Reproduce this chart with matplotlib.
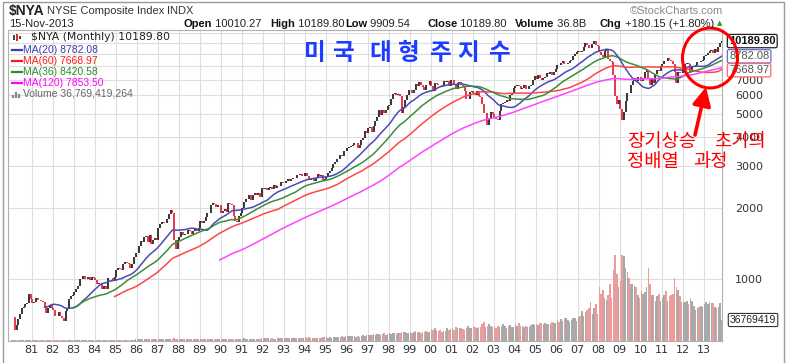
import numpy as np
import pandas as pd
import matplotlib
matplotlib.use("Agg")
import matplotlib.pyplot as plt
import matplotlib.transforms as mtrans
from matplotlib.patches import Ellipse, Rectangle
from matplotlib.ticker import FixedLocator, FixedFormatter, NullFormatter

plt.rcParams['font.family'] = ['DejaVu Sans', 'Noto Sans CJK KR']

# ---------------- data (monthly, Jan 1980 .. Nov 2013) ----------------
start_year = 1980
close_1980s = [690, 690, 610, 640, 680, 710, 750, 760, 780, 790, 860, 823,
               790, 800, 830, 815, 815, 810, 800, 760, 720, 750, 775, 752,
               740, 700, 695, 725, 700, 685, 665, 735, 745, 820, 850, 857,
               885, 910, 935, 1000, 1000, 1030, 1000, 1000, 1015, 995, 1020, 1006,
               995, 950, 965, 965, 910, 935, 910, 1010, 1005, 1005, 995, 1019,
               1095, 1110, 1100, 1095, 1160, 1175, 1170, 1160, 1115, 1160, 1240, 1286,
               1290, 1380, 1455, 1435, 1505, 1525, 1435, 1530, 1405, 1470, 1495, 1465,
               1645, 1710, 1745, 1720, 1725, 1800, 1890, 1960, 1910, 1465, 1340, 1462,
               1510, 1575, 1530, 1545, 1545, 1620, 1600, 1545, 1600, 1630, 1600, 1652,
               1760, 1720, 1760, 1840, 1910, 1895, 2050, 2090, 2080, 2020, 2055, 2062]
close_1990s = [1910, 1940, 1980, 1920, 2090, 2080, 2050, 1855, 1760, 1745, 1855, 1908,
               1990, 2130, 2180, 2180, 2270, 2170, 2270, 2320, 2280, 2310, 2215, 2426,
               2400, 2430, 2380, 2430, 2450, 2410, 2500, 2440, 2470, 2480, 2570, 2540,
               2560, 2590, 2650, 2600, 2660, 2670, 2670, 2760, 2750, 2790, 2740, 2740,
               2820, 2740, 2620, 2650, 2680, 2610, 2690, 2790, 2720, 2750, 2640, 2653,
               2710, 2810, 2880, 2960, 3060, 3120, 3230, 3240, 3360, 3330, 3470, 3484,
               3590, 3620, 3650, 3700, 3770, 3780, 3600, 3690, 3880, 3970, 4230, 4148,
               4370, 4400, 4210, 4430, 4690, 4880, 5200, 4960, 5220, 5040, 5210, 5405,
               5440, 5810, 6070, 6120, 6010, 6080, 5950, 5040, 5330, 5740, 6050, 6300,
               6330, 6160, 6330, 6710, 6560, 6820, 6620, 6520, 6340, 6640, 6640, 6876]
close_2000s = [6550, 6270, 6790, 6680, 6660, 6630, 6560, 6920, 6830, 6880, 6600, 6946,
               6990, 6700, 6390, 6750, 6830, 6650, 6600, 6280, 5800, 5810, 6190, 6237,
               6130, 6020, 6280, 5970, 5920, 5500, 5040, 5070, 4480, 4800, 5080, 5000,
               4860, 4760, 4730, 5130, 5500, 5580, 5650, 5760, 5690, 6010, 6080, 6440,
               6560, 6670, 6580, 6380, 6450, 6610, 6380, 6400, 6560, 6660, 7000, 7250,
               7050, 7300, 7130, 6940, 7120, 7200, 7450, 7410, 7520, 7330, 7570, 7754,
               8080, 8060, 8210, 8420, 8130, 8140, 8200, 8360, 8470, 8780, 8990, 9139,
               9270, 9150, 9270, 9650, 9990, 9800, 9510, 9500, 9940, 10238, 9790, 9740,
               9150, 8880, 8740, 9250, 9420, 8570, 8370, 8330, 7350, 5960, 5500, 5757,
               5260, 4710, 5080, 5690, 6150, 6140, 6660, 6880, 7090, 6910, 7210, 7185]
close_2010s = [6930, 7140, 7560, 7650, 7020, 6620, 7100, 6800, 7400, 7670, 7640, 7964,
               8150, 8400, 8390, 8650, 8510, 8370, 8120, 7530, 6800, 7560, 7490, 7477,
               7850, 8170, 8240, 8140, 7560, 7900, 7930, 8100, 8330, 8310, 8360, 8444,
               8840, 8890, 9100, 9280, 9300, 9040, 9470, 9200, 9610, 10010.27, 10189.80]

# monthly volume, billions of shares
vol_1980s = [1.0, 1.1, 1.0, 0.9, 0.9, 1.0, 1.1, 1.1, 1.2, 1.2, 1.2, 1.1,
             1.0, 1.0, 1.1, 1.0, 1.0, 1.0, 0.9, 0.9, 0.9, 1.0, 1.0, 1.0,
             1.0, 1.0, 1.2, 1.1, 1.0, 1.0, 1.1, 1.8, 1.6, 1.9, 1.6, 1.6,
             1.9, 1.9, 1.8, 2.0, 2.1, 1.8, 1.7, 1.5, 1.7, 1.8, 1.8, 1.7,
             2.0, 1.8, 1.7, 1.6, 1.9, 1.7, 1.7, 2.5, 1.9, 1.9, 1.8, 1.9,
             2.2, 2.3, 2.0, 1.9, 2.2, 2.1, 2.3, 1.9, 2.0, 2.5, 2.6, 2.7,
             2.8, 2.7, 3.2, 3.0, 2.8, 2.8, 2.7, 2.7, 3.0, 2.8, 3.0, 3.2,
             3.8, 4.1, 4.2, 3.9, 3.4, 3.5, 3.7, 3.8, 3.6, 6.0, 3.6, 3.8,
             3.2, 3.2, 3.7, 3.0, 2.9, 3.5, 2.7, 2.8, 2.8, 3.0, 3.0, 3.0,
             3.4, 3.3, 3.2, 3.3, 3.6, 3.8, 3.3, 4.1, 3.4, 4.0, 3.5, 3.6]
vol_1990s = [3.9, 3.2, 3.4, 3.3, 3.8, 3.6, 3.7, 4.0, 3.1, 3.6, 3.3, 3.4,
             3.8, 4.5, 4.0, 4.1, 3.9, 3.8, 3.8, 3.8, 3.8, 4.0, 4.0, 4.6,
             5.2, 4.8, 4.5, 4.6, 4.1, 4.4, 4.3, 4.2, 4.4, 4.6, 4.7, 4.9,
             5.4, 5.3, 5.4, 5.1, 5.0, 5.4, 5.0, 5.1, 5.6, 5.9, 5.8, 6.0,
             6.6, 5.9, 6.6, 5.7, 5.3, 5.5, 5.3, 5.8, 5.6, 6.0, 6.3, 6.3,
             6.2, 6.1, 7.3, 6.1, 7.3, 7.7, 7.1, 6.9, 7.4, 8.0, 7.6, 8.5,
             8.7, 8.6, 8.8, 9.2, 8.7, 7.8, 9.5, 7.4, 8.5, 10.0, 9.0, 9.9,
             11.0, 10.2, 10.5, 11.5, 10.6, 11.6, 11.4, 10.7, 11.4, 14.8, 11.0, 12.4,
             13.5, 12.6, 14.0, 13.6, 11.8, 14.0, 14.0, 15.3, 15.5, 16.3, 13.9, 14.0,
             15.5, 14.3, 16.6, 18.0, 15.3, 16.3, 14.5, 15.3, 15.0, 17.8, 16.5, 16.6]
vol_2000s = [20.2, 19.4, 22.0, 18.8, 17.9, 18.8, 16.6, 17.3, 17.3, 22.3, 19.3, 21.0,
             22.4, 20.1, 25.1, 23.0, 22.5, 22.0, 21.0, 19.5, 22.0, 26.0, 23.0, 23.0,
             26.0, 24.0, 23.0, 25.0, 25.0, 30.0, 34.0, 25.0, 26.0, 30.0, 26.0, 24.0,
             26.0, 23.0, 26.0, 25.0, 27.0, 29.0, 27.0, 22.0, 27.0, 28.0, 24.0, 25.0,
             30.0, 26.0, 31.0, 27.0, 26.0, 25.0, 26.0, 24.0, 24.0, 28.0, 29.0, 28.0,
             29.0, 28.0, 32.0, 31.0, 30.0, 31.0, 29.0, 29.0, 30.0, 34.0, 31.0, 31.0,
             36.0, 33.0, 38.0, 35.0, 40.0, 40.0, 37.0, 34.0, 36.0, 40.0, 40.0, 35.0,
             42.0, 44.0, 52.0, 43.0, 50.0, 55.0, 58.0, 68.0, 48.0, 57.0, 65.0, 48.0,
             95.0, 82.0, 90.0, 75.0, 72.0, 80.0, 100.0, 75.0, 125.0, 150.0, 118.0, 95.0,
             105.0, 150.0, 148.0, 128.0, 120.0, 110.0, 100.0, 100.0, 96.0, 95.0, 80.0, 75.0]
vol_2010s = [88.0, 82.0, 85.0, 95.0, 128.0, 100.0, 80.0, 80.0, 70.0, 78.0, 82.0, 70.0,
             75.0, 80.0, 88.0, 70.0, 78.0, 80.0, 82.0, 110.0, 95.0, 90.0, 78.0, 68.0,
             68.0, 68.0, 70.0, 65.0, 75.0, 70.0, 62.0, 55.0, 58.0, 60.0, 62.0, 60.0,
             65.0, 68.0, 64.0, 68.0, 66.0, 67.0, 60.0, 58.0, 60.0, 67.0, 36.769419264]

ma_periods = [20, 60, 36, 120]
ma_last_values = ["8782.08", "7668.97", "8420.58", "7853.50"]
last_close_text = "10189.80"
volume_text = "36,769,419,264"
volume_box_text = "36769419"

year_ticks = list(range(1981, 2014))
year_labels = [f"{y % 100:02d}" for y in year_ticks]
price_ticks = [1000, 2000, 3000, 4000, 5000, 6000, 7000]
price_grid_extra = [8000, 9000, 10000, 11000]

header_items = [("Open", "10010.27"), ("High", "10189.80"), ("Low", "9909.54"),
                ("Close", "10189.80"), ("Volume", "36.8B"), ("Chg", "+180.15 (+1.80%)")]

# ---------------- derived ----------------
closes = np.array(close_1980s + close_1990s + close_2000s + close_2010s, dtype=float)
vols = np.array(vol_1980s + vol_1990s + vol_2000s + vol_2010s, dtype=float)
n = len(closes)
t = start_year + (np.arange(n) + 0.5) / 12.0
opens = np.r_[closes[0], closes[:-1]]
up = closes >= opens
hi = np.maximum(opens, closes)
lo = np.minimum(opens, closes)
cser = pd.Series(closes)

# ---------------- layout ----------------
W, H = 786, 363
L, R, T, B = 8, 722, 30, 341
fig = plt.figure(figsize=(W / 100, H / 100), dpi=100)
rect = [L / W, 1 - B / H, (R - L) / W, (B - T) / H]

px_per_year = 21.0
x_left = 1981 - (31.5 - L) / px_per_year
x_right = 1981 + (R - 31.5) / px_per_year
y_bot = 1000 * 10 ** (-(B - 279) / 236.0)
y_top = 1000 * 10 ** ((279 - T) / 236.0)

axg = fig.add_axes(rect, zorder=0)
axg.set_yscale('log')
axg.set_xlim(x_left, x_right)
axg.set_ylim(y_bot, y_top)
axg.yaxis.tick_right()
axg.yaxis.set_major_locator(FixedLocator(price_ticks))
axg.yaxis.set_major_formatter(FixedFormatter([str(v) for v in price_ticks]))
axg.yaxis.set_minor_locator(FixedLocator(price_grid_extra))
axg.yaxis.set_minor_formatter(NullFormatter())
axg.xaxis.set_major_locator(FixedLocator(year_ticks))
axg.xaxis.set_major_formatter(FixedFormatter(year_labels))
axg.tick_params(which='both', length=0, labelsize=8, labelcolor='#333333')
axg.tick_params(axis='y', pad=9.5)
axg.tick_params(axis='x', pad=3)
axg.grid(True, which='both', color='#dedede', lw=0.8)
for s in axg.spines.values():
    s.set_color('#b0b0b0')
    s.set_linewidth(0.8)

# volume
axv = fig.add_axes(rect, zorder=1, sharex=axg)
axv.patch.set_visible(False)
axv.set_ylim(0, 36.77 * (B - T) / 21.0)
axv.bar(t, vols, width=0.8 / 12, color=np.where(up, '#a9a9a9', '#eb9c9c'), linewidth=0)
axv.axis('off')
vtr = mtrans.blended_transform_factory(axv.transAxes, axv.transData)
axv.text(1.011, vols[-1], volume_box_text, transform=vtr, ha='left', va='center',
         fontsize=7.5, family='Liberation Sans', color='#222222', clip_on=False,
         bbox=dict(boxstyle='round,pad=0.15', fc='white', ec='#333333', lw=0.8))

# price
ax = fig.add_axes(rect, zorder=2, sharex=axg, sharey=axg)
ax.patch.set_visible(False)
ax.axis('off')
ax.vlines(t[up], lo[up], hi[up], color='black', lw=1.1)
ax.vlines(t[~up], lo[~up], hi[~up], color='#e3001b', lw=1.1)
ma_colors = ['#4a4ab4', '#ff4646', '#3c8c3c', '#ff44ff']
for p, c in zip(ma_periods, ma_colors):
    ax.plot(t, cser.rolling(p).mean(), color=c, lw=1.1)
ptr = mtrans.blended_transform_factory(ax.transAxes, ax.transData)
box_x = (729 - L) / (R - L)
ax.text(box_x, float(last_close_text), last_close_text, transform=ptr, ha='left', va='center',
        fontsize=8, fontweight='bold', family='Liberation Sans', color='#111111', clip_on=False,
        bbox=dict(boxstyle='round,pad=0.15', fc='white', ec='#222222', lw=0.9))
ax.text(box_x, float(ma_last_values[0]), ma_last_values[0], transform=ptr, ha='left', va='center',
        fontsize=8, family='Liberation Sans', color='#555555', clip_on=False,
        bbox=dict(boxstyle='round,pad=0.15', fc='white', ec='#6a6ad0', lw=0.9))
ax.text(box_x, float(ma_last_values[1]), ma_last_values[1], transform=ptr, ha='left', va='center',
        fontsize=8, family='Liberation Sans', color='#555555', clip_on=False,
        bbox=dict(boxstyle='round,pad=0.15', fc='white', ec='#ff6a6a', lw=0.9))

# ---------------- overlay (pixel coordinates) ----------------
ov = fig.add_axes([0, 0, 1, 1], zorder=5)
ov.set_xlim(0, W)
ov.set_ylim(H, 0)
ov.axis('off')
ov.patch.set_visible(False)
ov.add_patch(Rectangle((2.5, 1.5), 781, 370, fill=False, ec='#9a9a9a', lw=1.0))

ov.text(9, 11, "$NYA", fontsize=10, fontweight='bold', family='Liberation Sans', va='center', color='#222')
ov.text(47, 11, "NYSE Composite Index", fontsize=8, family='Liberation Sans', va='center', color='#333')
ov.text(167, 11, "INDX", fontsize=8, family='Liberation Sans', va='center', color='#333')
ov.text(630, 11, "\u00a9StockCharts.com", fontsize=8, family='Liberation Sans', va='center', color='#8a8a8a')
ov.text(9, 24, "15-Nov-2013", fontsize=8, family='Liberation Sans', va='center', color='#222')
hx = [184, 270, 345, 427, 515, 600]
for (k, v), x0 in zip(header_items, hx):
    tk = ov.text(x0, 24, k, fontsize=8, fontweight='bold', family='Liberation Sans', va='center', color='#111')
    ov.annotate(" " + v, xy=(1, 0.5), xycoords=tk, va='center', ha='left', fontsize=8,
                family='Liberation Sans', color='#222')
ov.text(720, 23, "\u25b2", fontsize=5, color='#2a9a2a', va='center', ha='center')

# legend
ov.vlines([14, 17, 20], [35, 34, 36], [40, 41, 39], colors=['#222', '#d00', '#222'], lw=1.2)
ov.text(31, 37.5, "$NYA (Monthly) " + last_close_text, fontsize=7.8, va='center', color='#222')
leg_y = [50, 61, 72, 83]
leg_cols = ['#3c3cb4', '#ff1a1a', '#2e8b2e', '#ff00ff']
for p, v, c, yy in zip(ma_periods, ma_last_values, leg_cols, leg_y):
    ov.plot([12, 22], [yy, yy], color=c, lw=1.6)
    ov.text(23, yy, f"MA({p}) {v}", fontsize=7.5, family='Liberation Sans', va='center', color=c)
ov.vlines([13, 16, 19], [95, 92, 94], [98, 98, 98], colors='#888', lw=1.6)
ov.text(23, 94, "Volume " + volume_text, fontsize=7.5, family='Liberation Sans', va='center', color='#666')

# Korean title
title_chars = ["미", "국", "대", "형", "주", "지", "수"]
title_x = [315, 343, 380, 409, 440, 468, 499]
for ch, xx in zip(title_chars, title_x):
    ov.text(xx, 53, ch, fontsize=17, fontweight='bold', family='Noto Sans CJK KR', color='#1c3cff',
            ha='center', va='center')

# annotation
ov.add_patch(Ellipse((710, 58), 55, 60, fill=False, ec='#ff0000', lw=2.2))
ov.annotate('', xy=(706, 87), xytext=(695, 135),
            arrowprops=dict(arrowstyle='-|>,head_length=1.1,head_width=0.55', color='#ff0000', lw=2.6,
                            shrinkA=0, shrinkB=0))
red_words = [("장기상승", 627, 142), ("초기의", 714, 142), ("정배열", 627, 162), ("과정", 693, 162)]
for w, xx, yy in red_words:
    ov.text(xx, yy, w, fontsize=13.5, family='Noto Sans CJK KR', color='#ff0000', ha='left', va='center')

fig.savefig("out.png", dpi=100)
